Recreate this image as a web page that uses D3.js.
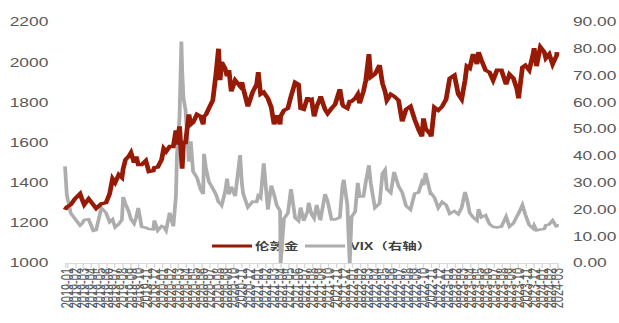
<!DOCTYPE html>
<html>
<head>
<meta charset="utf-8">
<script src="https://cdn.jsdelivr.net/npm/d3@7"></script>
<style>
  body { margin: 0; background: #fff; }
  svg { display: block; }
  text { font-family: "Liberation Sans", Arial, "Noto Sans CJK SC", sans-serif; fill: #595959; }
</style>
</head>
<body>
<div id="chart"></div>
<script>
// data (gold USD/oz, VIX)
var dates = ['2018-12-24','2018-12-31','2019-01-15','2019-01-31','2019-02-20','2019-02-28','2019-03-08','2019-03-25',
  '2019-04-12','2019-04-23','2019-05-13','2019-05-31','2019-06-14','2019-06-25','2019-07-05','2019-07-19','2019-07-31',
  '2019-08-05','2019-08-14','2019-08-26','2019-09-04','2019-09-16','2019-09-24','2019-10-02','2019-10-15','2019-10-31',
  '2019-11-12','2019-11-29','2019-12-03','2019-12-16','2019-12-31','2020-01-08','2020-01-17','2020-01-31','2020-02-14',
  '2020-02-24','2020-02-28','2020-03-09','2020-03-16','2020-03-19','2020-03-24','2020-04-01','2020-04-14','2020-04-21',
  '2020-04-30','2020-05-15','2020-05-29','2020-06-08','2020-06-11','2020-06-19','2020-06-30','2020-07-15','2020-07-28',
  '2020-08-06','2020-08-12','2020-08-18','2020-08-31','2020-09-08','2020-09-15','2020-09-24','2020-10-09','2020-10-28',
  '2020-11-04','2020-11-09','2020-11-27','2020-12-15','2020-12-31','2021-01-06','2021-01-15','2021-01-27','2021-02-12',
  '2021-02-25','2021-03-08','2021-03-18','2021-03-31','2021-04-02','2021-04-15','2021-04-30','2021-05-12','2021-05-28',
  '2021-06-10','2021-06-18','2021-06-30','2021-07-15','2021-07-19','2021-07-30','2021-08-09','2021-08-19','2021-08-31',
  '2021-09-03','2021-09-20','2021-09-30','2021-10-15','2021-10-29','2021-11-16','2021-11-26','2021-12-01','2021-12-15',
  '2021-12-24','2021-12-31','2022-01-14','2022-01-24','2022-01-31','2022-02-15','2022-02-24','2022-03-08','2022-03-15',
  '2022-03-31','2022-04-18','2022-04-29','2022-05-09','2022-05-16','2022-05-31','2022-06-13','2022-06-30','2022-07-14',
  '2022-07-29','2022-08-15','2022-08-31','2022-09-15','2022-09-28','2022-10-04','2022-10-12','2022-10-31','2022-11-03',
  '2022-11-15','2022-11-30','2022-12-15','2022-12-30','2023-01-13','2023-01-31','2023-02-15','2023-02-28','2023-03-13',
  '2023-03-20','2023-03-31','2023-04-13','2023-04-28','2023-05-04','2023-05-15','2023-05-31','2023-06-15','2023-06-29',
  '2023-07-14','2023-07-31','2023-08-18','2023-08-31','2023-09-15','2023-09-29','2023-10-05','2023-10-20','2023-10-31',
  '2023-11-15','2023-11-30','2023-12-04','2023-12-13','2023-12-28','2024-01-12','2024-01-18','2024-01-31','2024-02-13',
  '2024-02-29','2024-03-01'];

var gold = [1265,1279,1290,1320,1345,1316,1290,1320,
  1290,1272,1295,1300,1345,1420,1400,1440,1425,
  1470,1515,1530,1550,1500,1530,1490,1490,1510,
  1455,1460,1475,1478,1515,1570,1555,1580,1580,
  1660,1590,1680,1530,1470,1600,1600,1740,1690,
  1700,1740,1730,1690,1730,1740,1770,1810,1950,
  2067,1910,2000,1970,1930,1960,1855,1910,1880,
  1900,1870,1780,1850,1890,1950,1840,1850,1820,
  1775,1690,1735,1690,1730,1760,1770,1830,1900,
  1890,1770,1765,1825,1810,1815,1730,1780,1815,
  1830,1765,1745,1770,1790,1865,1790,1780,1770,
  1805,1805,1820,1840,1795,1855,1910,2040,1925,
  1940,1985,1895,1855,1810,1840,1830,1810,1705,
  1765,1780,1715,1665,1630,1720,1670,1640,1630,
  1775,1760,1780,1815,1920,1935,1840,1815,1910,
  1980,1970,2040,1990,2050,2010,1960,1950,1910,
  1960,1960,1890,1940,1920,1865,1820,1975,1985,
  1960,2040,2070,1980,2075,2050,2020,2040,1990,
  2035,2050];

var vix = [36.1,25.4,18.6,16.6,14.0,14.8,16.1,16.3,
  12.0,12.3,20.6,18.7,15.3,16.3,13.3,14.5,16.1,
  24.6,22.1,19.3,16.3,14.7,17.1,20.6,13.5,13.2,
  12.7,12.6,15.9,12.1,13.8,13.5,12.1,18.8,13.7,
  25.0,40.1,54.5,82.7,72.0,61.7,57.1,37.8,45.4,
  34.2,31.9,27.5,25.8,40.8,35.1,30.4,27.8,25.4,
  22.7,22.3,21.5,26.4,31.5,25.6,28.5,25.0,40.3,
  29.6,25.8,20.8,22.9,22.8,25.1,24.3,37.2,19.9,
  28.9,25.5,21.6,19.4,0,16.6,18.6,27.6,16.8,
  15.7,20.7,15.8,19.4,22.5,18.2,16.7,21.7,16.5,
  16.4,25.7,23.1,16.3,16.3,17.0,28.6,31.1,21.6,
  0,17.2,19.2,29.9,24.8,24.9,30.3,36.5,29.8,
  20.6,22.2,33.4,34.8,27.5,26.2,34.0,28.7,26.4,
  21.3,19.9,25.9,26.3,30.2,29.1,33.6,25.9,26.0,
  24.5,20.6,22.8,21.7,18.4,19.4,18.2,20.7,26.5,
  24.1,18.7,17.1,15.8,20.1,17.1,17.9,14.5,13.5,
  13.3,13.6,17.3,13.6,14.8,17.5,18.5,21.7,18.1,
  14.2,12.9,14.0,12.2,12.5,12.7,14.1,14.4,15.9,
  13.4,14.6];

var goldTicks = [1000, 1200, 1400, 1600, 1800, 2000, 2200];
var vixTicks = [0, 10, 20, 30, 40, 50, 60, 70, 80, 90];
var seriesNames = ['伦敦金', 'VIX（右轴）'];

// the picture is stretched sideways, so draw narrow and stretch the svg
var outW = 619, outH = 323, stretch = 1.45;
var innerW = outW / stretch;

var svg = d3.select('#chart').append('svg')
  .attr('width', outW).attr('height', outH)
  .attr('viewBox', '0 0 ' + innerW + ' ' + outH)
  .attr('preserveAspectRatio', 'none');

var parse = d3.timeParse('%Y-%m-%d');
var rows = dates.map(function (d, i) { return { date: parse(d), gold: gold[i], vix: vix[i] }; });

var plotL = 65 / stretch, plotR = 557 / stretch, plotT = 22, plotB = 263;

var x = d3.scaleTime().domain(d3.extent(rows, function (d) { return d.date; })).range([plotL, plotR]);
var yL = d3.scaleLinear().domain([1000, 2200]).range([plotB, plotT]);
var yR = d3.scaleLinear().domain([0, 90]).range([plotB, plotT]);

// left axis labels
var ax1 = svg.append('g').attr('transform', 'translate(' + (plotL - 11.5) + ',0)')
  .call(d3.axisLeft(yL).tickValues(goldTicks).tickSize(0).tickPadding(0).tickFormat(d3.format('d')));
ax1.select('.domain').remove();
ax1.selectAll('text').style('font-size', '12px');

// right axis labels
var ax2 = svg.append('g').attr('transform', 'translate(' + (plotR + 11) + ',0)')
  .call(d3.axisRight(yR).tickValues(vixTicks).tickSize(0).tickPadding(0).tickFormat(d3.format('.2f')));
ax2.select('.domain').remove();
ax2.selectAll('text').style('font-size', '12px');

// bottom axis with monthly ticks
var ax3 = svg.append('g').attr('transform', 'translate(0,' + plotB + ')')
  .call(d3.axisBottom(x).ticks(d3.timeMonth.every(1)).tickSize(5).tickFormat(d3.timeFormat('%Y-%m')));
ax3.select('.domain').attr('stroke', '#d9d9d9');
ax3.selectAll('line').attr('stroke', '#d9d9d9');
ax3.selectAll('text')
  .style('font-size', '11px')
  .attr('text-anchor', 'end')
  .attr('dy', '0.35em')
  .attr('transform', 'translate(0,5) rotate(-90)')
  .attr('x', 0).attr('y', 0);

// legend
var lg = svg.append('g').attr('transform', 'translate(0,246)');
lg.append('line').attr('x1', 212 / stretch).attr('x2', 252 / stretch).attr('stroke', '#961a06').attr('stroke-width', 3);
lg.append('text').attr('x', 255 / stretch).attr('dy', '0.35em').text(seriesNames[0])
  .style('font-size', '10px').style('font-weight', 'bold').style('fill', '#404040');
lg.append('line').attr('x1', 305 / stretch).attr('x2', 345 / stretch).attr('stroke', '#adadad').attr('stroke-width', 3);
lg.append('text').attr('x', 350 / stretch).attr('dy', '0.35em').text(seriesNames[1])
  .style('font-size', '10px').style('font-weight', 'bold').style('fill', '#404040');

// lines
svg.append('path').datum(rows)
  .attr('fill', 'none').attr('stroke', '#adadad').attr('stroke-width', 2.6)
  .attr('d', d3.line().x(function (d) { return x(d.date); }).y(function (d) { return yR(d.vix); }));

svg.append('path').datum(rows)
  .attr('fill', 'none').attr('stroke', '#961a06').attr('stroke-width', 3.3)
  .attr('d', d3.line().x(function (d) { return x(d.date); }).y(function (d) { return yL(d.gold); }));
</script>
</body>
</html>
